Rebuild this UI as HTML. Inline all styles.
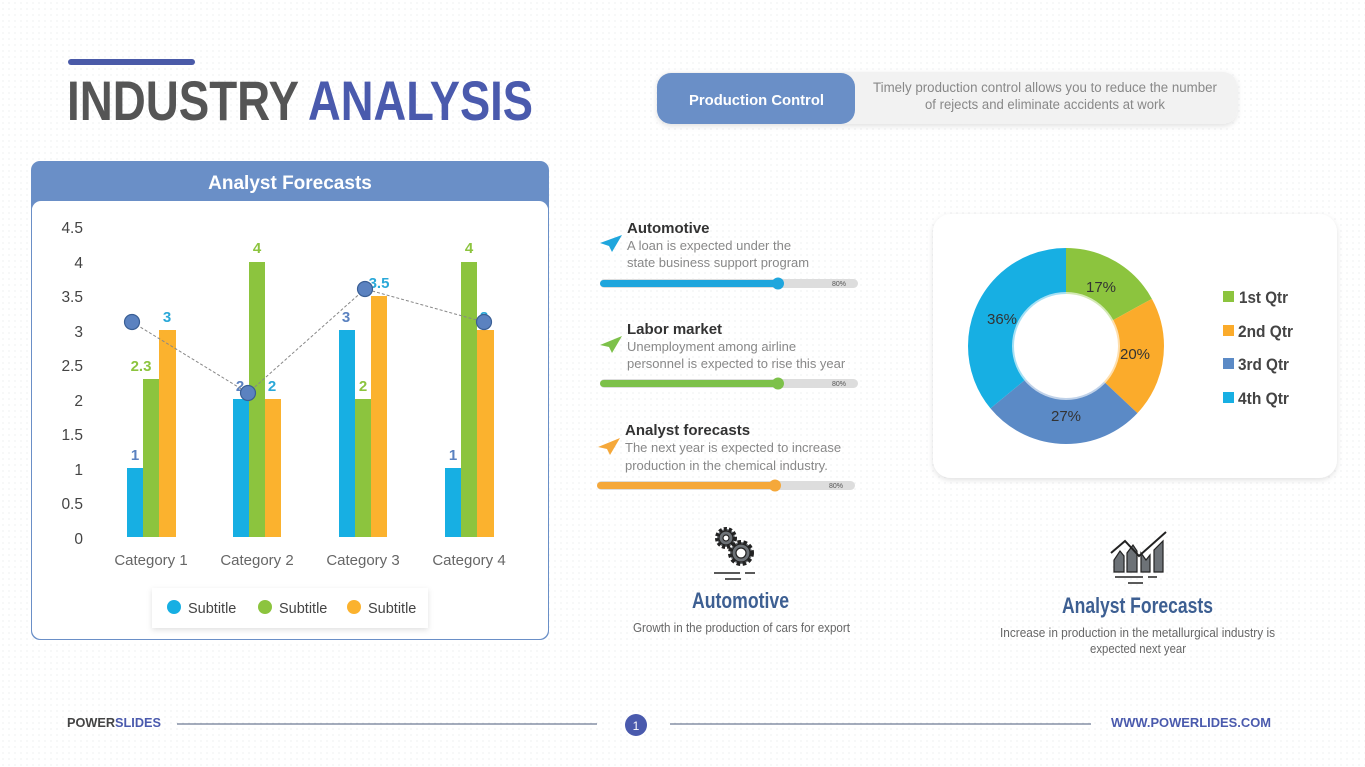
<!DOCTYPE html>
<html><head><meta charset="utf-8"><style>
html,body{margin:0;padding:0;background:#fff}
svg{display:block}
text{font-family:"Liberation Sans",sans-serif}
.n{font-family:"Liberation Sans Narrow","Liberation Sans",sans-serif}
</style></head><body>
<svg width="1365" height="767" viewBox="0 0 1365 767" xmlns="http://www.w3.org/2000/svg">
<defs>
<pattern id="dots" width="6" height="6" patternUnits="userSpaceOnUse"><rect width="6" height="6" fill="#fff"/><circle cx="3" cy="3" r="0.6" fill="#e4e6ea"/></pattern>
<filter id="sh" x="-10%" y="-10%" width="120%" height="130%"><feDropShadow dx="0" dy="2" stdDeviation="3" flood-color="#000" flood-opacity="0.12"/></filter>
</defs>
<rect width="1365" height="767" fill="url(#dots)"/>

<!-- Title -->
<rect x="68" y="59" width="127" height="6" rx="3" fill="#4a5aa8"/>
<text x="67" y="120" class="n" font-size="56" font-weight="bold" fill="#555" textLength="232" lengthAdjust="spacingAndGlyphs">INDUSTRY</text>
<text x="308" y="120" class="n" font-size="56" font-weight="bold" fill="#4a5aad" textLength="225" lengthAdjust="spacingAndGlyphs">ANALYSIS</text>

<!-- Production control pill -->
<rect x="657" y="72" width="580" height="52" rx="14" fill="#f2f2f2" filter="url(#sh)"/>
<rect x="657" y="73" width="198" height="51" rx="14" fill="#6a8fc7"/>
<text x="689" y="105" class="n" font-size="15" font-weight="bold" fill="#fff" textLength="135" lengthAdjust="spacingAndGlyphs">Production Control</text>
<text x="873" y="92" class="n" font-size="13.5" fill="#888" textLength="344" lengthAdjust="spacingAndGlyphs">Timely production control allows you to reduce the number</text>
<text x="925" y="109" class="n" font-size="13.5" fill="#888" textLength="240" lengthAdjust="spacingAndGlyphs">of rejects and eliminate accidents at work</text>

<!-- Chart card -->
<rect x="31" y="161" width="518" height="479" rx="9" fill="#6a8fc7"/>
<rect x="32" y="201" width="516" height="438" rx="9" fill="#fff"/>
<rect x="32" y="195" width="516" height="12" fill="#6a8fc7"/>
<rect x="32" y="201" width="516" height="20" rx="9" fill="#fff"/>
<text x="290" y="189" text-anchor="middle" font-size="19" font-weight="bold" fill="#fff">Analyst Forecasts</text>

<g font-size="15.5" fill="#444" text-anchor="end">
<text x="83" y="233">4.5</text><text x="83" y="268">4</text><text x="83" y="302">3.5</text>
<text x="83" y="337">3</text><text x="83" y="371">2.5</text><text x="83" y="406">2</text>
<text x="83" y="440">1.5</text><text x="83" y="475">1</text><text x="83" y="509">0.5</text>
<text x="83" y="544">0</text>
</g>
<g>
<rect x="127" y="468" width="16" height="69" fill="#17afe3"/>
<rect x="143" y="379" width="16" height="158" fill="#8cc43e"/>
<rect x="159" y="330" width="17" height="207" fill="#fbb22e"/>
<rect x="233" y="399" width="16" height="138" fill="#17afe3"/>
<rect x="249" y="262" width="16" height="275" fill="#8cc43e"/>
<rect x="265" y="399" width="16" height="138" fill="#fbb22e"/>
<rect x="339" y="330" width="16" height="207" fill="#17afe3"/>
<rect x="355" y="399" width="16" height="138" fill="#8cc43e"/>
<rect x="371" y="296" width="16" height="241" fill="#fbb22e"/>
<rect x="445" y="468" width="16" height="69" fill="#17afe3"/>
<rect x="461" y="262" width="16" height="275" fill="#8cc43e"/>
<rect x="477" y="330" width="17" height="207" fill="#fbb22e"/>
</g>
<g font-size="15" font-weight="bold" text-anchor="middle">
<text x="135" y="460" fill="#5b82c0">1</text>
<text x="141" y="371" fill="#8cc43e">2.3</text>
<text x="167" y="322" fill="#2aa8d8">3</text>
<text x="240" y="391" fill="#5b82c0">2</text>
<text x="272" y="391" fill="#2aa8d8">2</text>
<text x="257" y="253" fill="#8cc43e">4</text>
<text x="346" y="322" fill="#5b82c0">3</text>
<text x="363" y="391" fill="#8cc43e">2</text>
<text x="379" y="288" fill="#2aa8d8">3.5</text>
<text x="453" y="460" fill="#5b82c0">1</text>
<text x="469" y="253" fill="#8cc43e">4</text>
<text x="484" y="322" fill="#2aa8d8">3</text>
</g>
<polyline points="132,322 248,393 365,289 484,322" fill="none" stroke="#888" stroke-width="1" stroke-dasharray="3,2"/>
<g fill="#5b82c0" stroke="#3a5f95" stroke-width="1.2">
<circle cx="132" cy="322" r="7.5"/><circle cx="248" cy="393" r="7.5"/>
<circle cx="365" cy="289" r="7.5"/><circle cx="484" cy="322" r="7.5"/>
</g>
<g font-size="15" fill="#666" text-anchor="middle">
<text x="151" y="565">Category 1</text><text x="257" y="565">Category 2</text>
<text x="363" y="565">Category 3</text><text x="469" y="565">Category 4</text>
</g>
<rect x="152" y="588" width="276" height="40" fill="#fff" filter="url(#sh)"/>
<circle cx="174" cy="607" r="7" fill="#17afe3"/><text x="188" y="613" font-size="14.5" fill="#444">Subtitle</text>
<circle cx="265" cy="607" r="7" fill="#8cc43e"/><text x="279" y="613" font-size="14.5" fill="#444">Subtitle</text>
<circle cx="354" cy="607" r="7" fill="#fbb22e"/><text x="368" y="613" font-size="14.5" fill="#444">Subtitle</text>

<!-- Middle items -->
<g>
<polygon points="600,243 622,235 612,252 609,246" fill="#1fa6dd"/>
<text x="627" y="233" font-size="15" font-weight="bold" fill="#333">Automotive</text>
<text x="627" y="250" font-size="13" fill="#888">A loan is expected under the</text>
<text x="627" y="267" font-size="13" fill="#888">state business support program</text>
<rect x="600" y="279" width="258" height="9" rx="4.5" fill="#ddd"/>
<rect x="600" y="280" width="178" height="7" rx="3.5" fill="#1fa6dd"/>
<circle cx="778" cy="283.5" r="6" fill="#1fa6dd"/>
<text x="839" y="286" font-size="7" fill="#555" text-anchor="middle">80%</text>

<polygon points="600,345 622,336 612,353 609,347" fill="#7dc14a"/>
<text x="627" y="334" font-size="15" font-weight="bold" fill="#333">Labor market</text>
<text x="627" y="351" font-size="13" fill="#888">Unemployment among airline</text>
<text x="627" y="368" font-size="13" fill="#888">personnel is expected to rise this year</text>
<rect x="600" y="379" width="258" height="9" rx="4.5" fill="#ddd"/>
<rect x="600" y="380" width="178" height="7" rx="3.5" fill="#7dc14a"/>
<circle cx="778" cy="383.5" r="6" fill="#7dc14a"/>
<text x="839" y="386" font-size="7" fill="#555" text-anchor="middle">80%</text>

<polygon points="598,447 620,438 610,455 607,449" fill="#f5a83a"/>
<text x="625" y="435" font-size="15" font-weight="bold" fill="#333">Analyst forecasts</text>
<text x="625" y="452" font-size="13" fill="#888">The next year is expected to increase</text>
<text x="625" y="470" font-size="13" fill="#888">production in the chemical industry.</text>
<rect x="597" y="481" width="258" height="9" rx="4.5" fill="#ddd"/>
<rect x="597" y="482" width="178" height="7" rx="3.5" fill="#f5a83a"/>
<circle cx="775" cy="485.5" r="6" fill="#f5a83a"/>
<text x="836" y="488" font-size="7" fill="#555" text-anchor="middle">80%</text>
</g>

<!-- Donut card -->
<rect x="933" y="214" width="404" height="264" rx="18" fill="#fff" filter="url(#sh)"/>
<g transform="rotate(-90 1066 346)" fill="none" stroke-width="46">
<circle cx="1066" cy="346" r="75" stroke="#8cc43e" stroke-dasharray="80.1 471.2" stroke-dashoffset="0"/>
<circle cx="1066" cy="346" r="75" stroke="#fbab2b" stroke-dasharray="94.2 471.2" stroke-dashoffset="-80.1"/>
<circle cx="1066" cy="346" r="75" stroke="#5b8ac6" stroke-dasharray="127.2 471.2" stroke-dashoffset="-174.3"/>
<circle cx="1066" cy="346" r="75" stroke="#17afe3" stroke-dasharray="169.7 471.2" stroke-dashoffset="-301.5"/>
</g>
<circle cx="1066" cy="346" r="54" fill="#fff" opacity="0.62"/>
<circle cx="1066" cy="346" r="41" fill="#fff"/>
<g font-size="15" fill="#333" text-anchor="middle">
<text x="1101" y="292">17%</text><text x="1135" y="359">20%</text>
<text x="1066" y="421">27%</text><text x="1002" y="324">36%</text>
</g>
<g class="n" font-size="17" font-weight="bold" fill="#444">
<rect x="1223" y="291" width="11" height="11" fill="#8cc43e"/><text x="1239" y="303" textLength="49" lengthAdjust="spacingAndGlyphs">1st Qtr</text>
<rect x="1223" y="325" width="11" height="11" fill="#fbab2b"/><text x="1238" y="337" textLength="55" lengthAdjust="spacingAndGlyphs">2nd Qtr</text>
<rect x="1223" y="358" width="11" height="11" fill="#5b8ac6"/><text x="1238" y="370" textLength="51" lengthAdjust="spacingAndGlyphs">3rd Qtr</text>
<rect x="1223" y="392" width="11" height="11" fill="#17afe3"/><text x="1238" y="404" textLength="51" lengthAdjust="spacingAndGlyphs">4th Qtr</text>
</g>

<!-- Gears icon -->
<g fill="#6d7277" stroke="#222" stroke-width="1.2">
<circle cx="726" cy="538" r="9" stroke-dasharray="3 2" stroke-width="4"/>
<circle cx="726" cy="538" r="7"/>
<circle cx="726" cy="538" r="3" fill="#fff"/>
<circle cx="741" cy="553" r="11" stroke-dasharray="3.5 2.5" stroke-width="4"/>
<circle cx="741" cy="553" r="9"/>
<circle cx="741" cy="553" r="5" fill="#fff"/>
</g>
<g stroke="#222" stroke-width="1.5"><line x1="714" y1="573" x2="740" y2="573"/><line x1="745" y1="573" x2="755" y2="573"/><line x1="725" y1="579" x2="741" y2="579"/></g>
<text x="692" y="608" class="n" font-size="22" font-weight="bold" fill="#3d5f92" textLength="97" lengthAdjust="spacingAndGlyphs">Automotive</text>
<text x="633" y="632" class="n" font-size="12.5" fill="#666" textLength="217" lengthAdjust="spacingAndGlyphs">Growth in the production of cars for export</text>

<!-- Chart icon -->
<g fill="#6d7277" stroke="#222" stroke-width="1.2">
<polygon points="1114,572 1114,560 1120,551 1124,556 1124,572"/>
<polygon points="1127,572 1127,553 1133,545 1137,551 1137,572"/>
<polygon points="1141,572 1141,553 1146,560 1150,555 1150,572"/>
<polygon points="1154,572 1154,550 1163,541 1163,572"/>
</g>
<polyline points="1111,553 1125,541 1139,556 1166,532" fill="none" stroke="#222" stroke-width="2"/>
<g stroke="#222" stroke-width="1.5"><line x1="1115" y1="577" x2="1143" y2="577"/><line x1="1148" y1="577" x2="1157" y2="577"/><line x1="1128" y1="583" x2="1143" y2="583"/></g>
<text x="1062" y="613" class="n" font-size="22" font-weight="bold" fill="#3d5f92" textLength="151" lengthAdjust="spacingAndGlyphs">Analyst Forecasts</text>
<text x="1000" y="637" class="n" font-size="12.5" fill="#666" textLength="275" lengthAdjust="spacingAndGlyphs">Increase in production in the metallurgical industry is</text>
<text x="1090" y="653" class="n" font-size="12.5" fill="#666" textLength="96" lengthAdjust="spacingAndGlyphs">expected next year</text>

<!-- Footer -->
<text x="67" y="727" class="n" font-size="13" font-weight="bold" fill="#444" textLength="94" lengthAdjust="spacingAndGlyphs">POWER<tspan fill="#4a5aad">SLIDES</tspan></text>
<line x1="177" y1="724" x2="597" y2="724" stroke="#4a5a7a" stroke-width="1"/>
<circle cx="636" cy="725" r="11" fill="#4a5aad"/>
<text x="636" y="730" text-anchor="middle" font-size="12" fill="#fff">1</text>
<line x1="670" y1="724" x2="1091" y2="724" stroke="#4a5a7a" stroke-width="1"/>
<text x="1111" y="727" class="n" font-size="13" font-weight="bold" fill="#4a5aad" textLength="160" lengthAdjust="spacingAndGlyphs">WWW.POWERLIDES.COM</text>
</svg>
</body></html>
